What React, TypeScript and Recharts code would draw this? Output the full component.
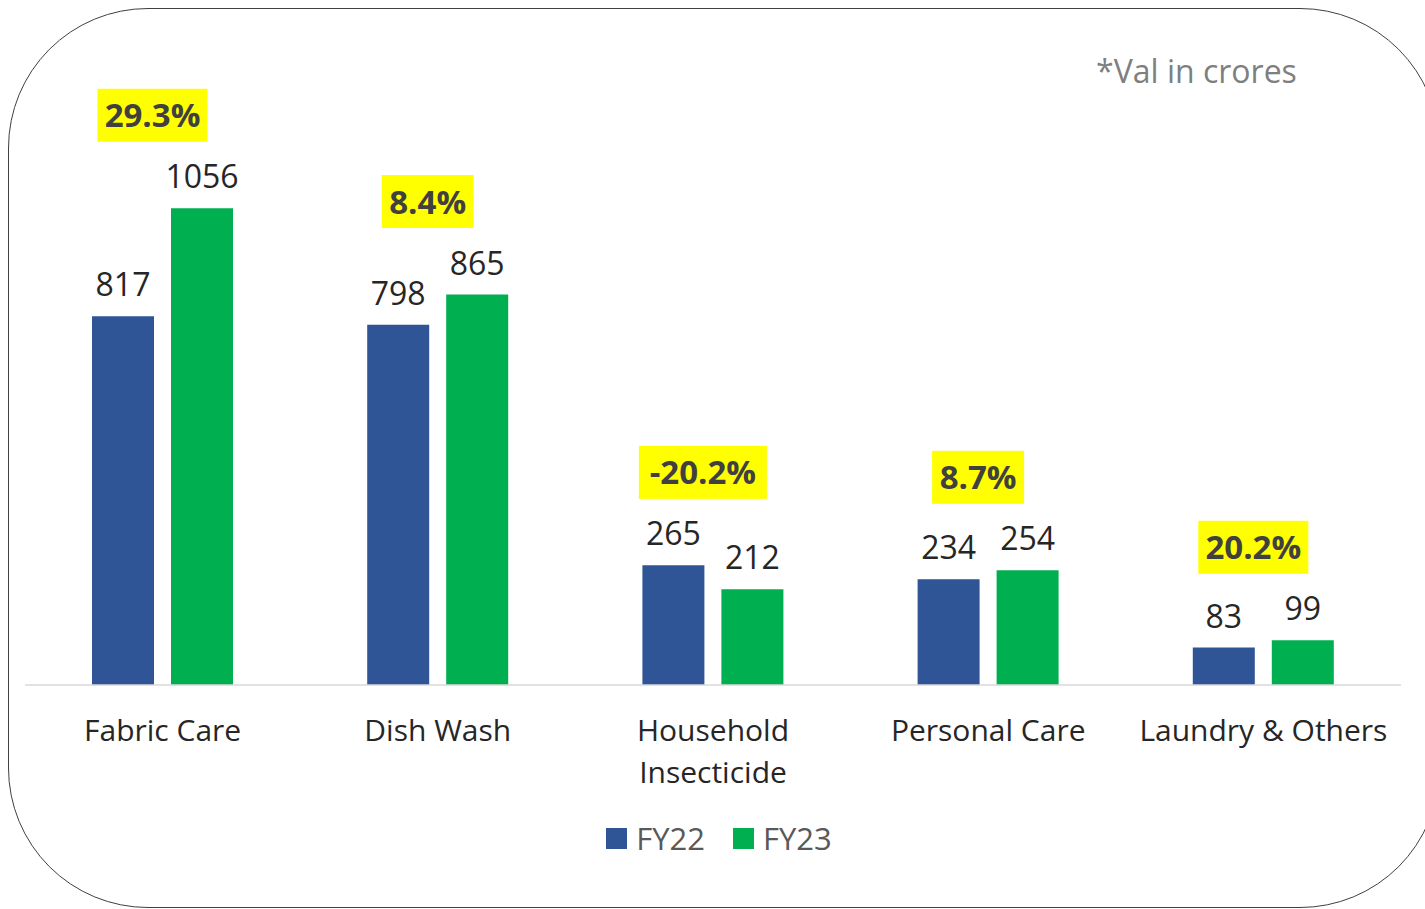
import React from 'react';
import { BarChart, Bar, XAxis, YAxis, LabelList, Legend } from 'recharts';

const categories = ['Fabric Care', 'Dish Wash', 'Household Insecticide', 'Personal Care', 'Laundry & Others'];
const fy22 = [817, 798, 265, 234, 83];
const fy23 = [1056, 865, 212, 254, 99];
const growth = ['29.3%', '8.4%', '-20.2%', '8.7%', '20.2%'];
const seriesNames = ['FY22', 'FY23'];
const seriesColors = ['#2F5597', '#00B050'];
const note = '*Val in crores';

const data = categories.map((c, i) => ({ category: c, FY22: fy22[i], FY23: fy23[i], growth: growth[i] }));

const FONT = "'Open Sans', 'Noto Sans', sans-serif";
const W = 1425;
const H = 909;

const CategoryTick = (props: any) => {
  const { x, y, payload } = props;
  const text = String(payload.value);
  const lines = text.length > 18 ? text.split(' ') : [text];
  return (
    <text x={x} y={y} textAnchor="middle" fill="#262626" fontSize={30} fontFamily={FONT}>
      {lines.map((l, i) => (
        <tspan key={i} x={x} dy={i === 0 ? 56 : 42}>
          {l}
        </tspan>
      ))}
    </text>
  );
};

const GrowthBadge = (props: any) => {
  const vb = props.viewBox && props.viewBox.width !== undefined ? props.viewBox : props;
  const { x, y, width, height } = vb;
  const index = props.index;
  if (index === undefined || x === undefined) return null;
  const v22 = fy22[index];
  const v23 = fy23[index];
  const base = y + height;
  const perUnit = height / v23;
  const topY = base - Math.max(v22, v23) * perUnit;
  const cx = x - 18.5;
  const cy = topY - 93;
  const label = growth[index];
  const bw = label.length * 18 + 20;
  const bh = 53;
  return (
    <g>
      <rect x={cx - bw / 2} y={cy - bh / 2} width={bw} height={bh} fill="#FFFF00" />
      <text x={cx} y={cy + 12} textAnchor="middle" fill="#404040" fontSize={33} fontWeight={700} fontFamily={FONT}>
        {label}
      </text>
    </g>
  );
};

const LegendContent = () => (
  <div
    style={{
      display: 'flex',
      justifyContent: 'center',
      alignItems: 'center',
      height: 30,
      paddingLeft: 12,
      fontFamily: FONT,
      fontSize: 31,
      color: '#595959',
    }}
  >
    {seriesNames.map((n, i) => (
      <div key={n} style={{ display: 'flex', alignItems: 'center', marginLeft: i ? 28 : 0 }}>
        <div style={{ width: 21, height: 21, background: seriesColors[i], marginRight: 9 }} />
        <span style={{ lineHeight: '30px' }}>{n}</span>
      </div>
    ))}
  </div>
);

export default function App() {
  return (
    <div style={{ position: 'fixed', left: 0, top: 0, width: W, height: H, overflow: 'hidden', background: '#fff' }}>
      <div
        style={{
          position: 'absolute',
          left: 8,
          top: 8,
          width: 1432,
          height: 900,
          border: '1px solid #404040',
          borderRadius: 140,
          boxSizing: 'border-box',
        }}
      />
      <div
        style={{
          position: 'absolute',
          left: 1096,
          top: 55,
          fontFamily: FONT,
          fontSize: 32,
          lineHeight: 1,
          color: '#7F7F7F',
          whiteSpace: 'nowrap',
        }}
      >
        {note}
      </div>
      <div style={{ position: 'absolute', left: 0, top: 0 }}>
        <BarChart
          width={W}
          height={H}
          data={data}
          margin={{ top: 53, right: 24, bottom: 56, left: 25 }}
          barSize={62}
          barGap={17}
        >
          <YAxis hide domain={[0, 1400]} />
          <XAxis
            dataKey="category"
            height={138}
            tickLine={false}
            tickSize={0}
            tickMargin={0}
            axisLine={{ stroke: '#D9D9D9', strokeWidth: 1.5 }}
            tick={<CategoryTick />}
            interval={0}
          />
          <Legend verticalAlign="bottom" content={<LegendContent />} />
          <Bar dataKey="FY22" name={seriesNames[0]} fill={seriesColors[0]} isAnimationActive={false}>
            <LabelList dataKey="FY22" position="top" offset={20} fill="#262626" fontSize={32} fontFamily={FONT} />
          </Bar>
          <Bar dataKey="FY23" name={seriesNames[1]} fill={seriesColors[1]} isAnimationActive={false}>
            <LabelList dataKey="FY23" position="top" offset={20} fill="#262626" fontSize={32} fontFamily={FONT} />
            <LabelList dataKey="FY23" content={<GrowthBadge />} />
          </Bar>
        </BarChart>
      </div>
    </div>
  );
}
